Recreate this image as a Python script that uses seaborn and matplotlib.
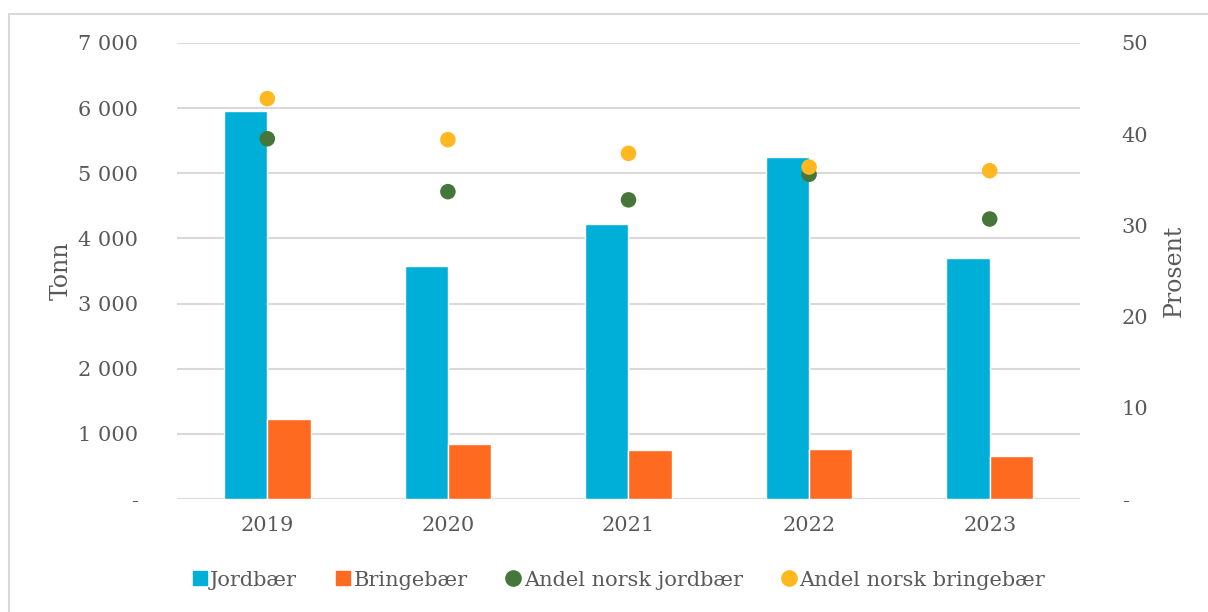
import numpy as np
import pandas as pd
import matplotlib
matplotlib.use("Agg")
import matplotlib.pyplot as plt
from matplotlib.lines import Line2D
from matplotlib.patches import Rectangle
import seaborn as sns

# ── data ─────────────────────────────────────────────────────
years = ["2019", "2020", "2021", "2022", "2023"]
jordbaer = [5960, 3570, 4225, 5245, 3700]
bringebaer = [1235, 840, 745, 775, 665]
andel_jordbaer = [39.5, 33.7, 32.8, 35.6, 30.7]
andel_bringebaer = [43.9, 39.4, 37.9, 36.4, 36.0]

C_JORD = "#00AFD7"
C_BRING = "#FF6A21"
C_GREEN = "#46763A"
C_GOLD = "#FFB81F"
TXT = "#595959"
GRID = "#D9D9D9"

sns.set_theme(style="white")
plt.rcParams["font.family"] = ["DejaVu Serif"]

df = pd.DataFrame({"år": years * 2,
                   "tonn": jordbaer + bringebaer,
                   "bær": ["Jordbær"] * 5 + ["Bringebær"] * 5})

fig = plt.figure(figsize=(12.08, 6.12), dpi=100)
ax = fig.add_axes([177/1208, 1-499/612, (1080-177)/1208, (499-43)/612])

sns.barplot(data=df, x="år", y="tonn", hue="bær", order=years,
            palette={"Jordbær": C_JORD, "Bringebær": C_BRING},
            width=0.48, gap=0, saturation=1, ax=ax, legend=False)

ax.set_ylim(0, 7000)
ax.set_xlim(-0.5, 4.5)
ax.set_yticks(np.arange(0, 7001, 1000))
ax.set_yticklabels(["-" if v == 0 else f"{v:,}".replace(",", " ")
                    for v in range(0, 7001, 1000)])
ax.yaxis.grid(True, color=GRID, lw=1.5)
ax.set_axisbelow(True)
for s in ax.spines.values():
    s.set_visible(False)
ax.tick_params(axis="both", length=0, labelsize=15, colors=TXT)
ax.tick_params(axis="y", pad=28)
ax.tick_params(axis="x", pad=12)
ax.set_xlabel("")
ax.set_ylabel("Tonn", fontsize=17, color=TXT)
ax.yaxis.set_label_coords(-0.116, 0.5)

ax2 = ax.twinx()
xpos = np.arange(len(years))
sns.scatterplot(x=xpos, y=andel_jordbaer, color=C_GREEN, s=125,
                edgecolor="none", ax=ax2, zorder=3)
sns.scatterplot(x=xpos, y=andel_bringebaer, color=C_GOLD, s=125,
                edgecolor="none", ax=ax2, zorder=4)
ax2.set_ylim(0, 50)
ax2.set_xlim(-0.5, 4.5)
ax2.set_yticks(np.arange(0, 51, 10))
ax2.set_yticklabels(["-" if v == 0 else str(v) for v in range(0, 51, 10)])
ax2.grid(False)
for s in ax2.spines.values():
    s.set_visible(False)
ax2.tick_params(axis="y", length=0, labelsize=15, colors=TXT, pad=30)
ax2.set_ylabel("Prosent", fontsize=17, color=TXT)
ax2.yaxis.set_label_coords(1.092, 0.5)

handles = [
    Line2D([], [], ls="none", marker="s", ms=10, color=C_JORD),
    Line2D([], [], ls="none", marker="s", ms=10, color=C_BRING),
    Line2D([], [], ls="none", marker="o", ms=11, color=C_GREEN),
    Line2D([], [], ls="none", marker="o", ms=11, color=C_GOLD),
]
labels = ["Jordbær", "Bringebær", "Andel norsk jordbær", "Andel norsk bringebær"]
leg = fig.legend(handles, labels, loc="center", bbox_to_anchor=(617/1208, 1-580/612),
                 ncol=4, frameon=False, fontsize=15, handletextpad=0.0,
                 columnspacing=1.7, handlelength=1.0)
for t in leg.get_texts():
    t.set_color(TXT)

fig.patches.append(Rectangle((9/1208, -0.1), 1.2, 1.1 - 14/612,
                             transform=fig.transFigure, fill=False,
                             edgecolor=GRID, lw=1.5))

plt.savefig("out.png", dpi=100)
plt.close()
